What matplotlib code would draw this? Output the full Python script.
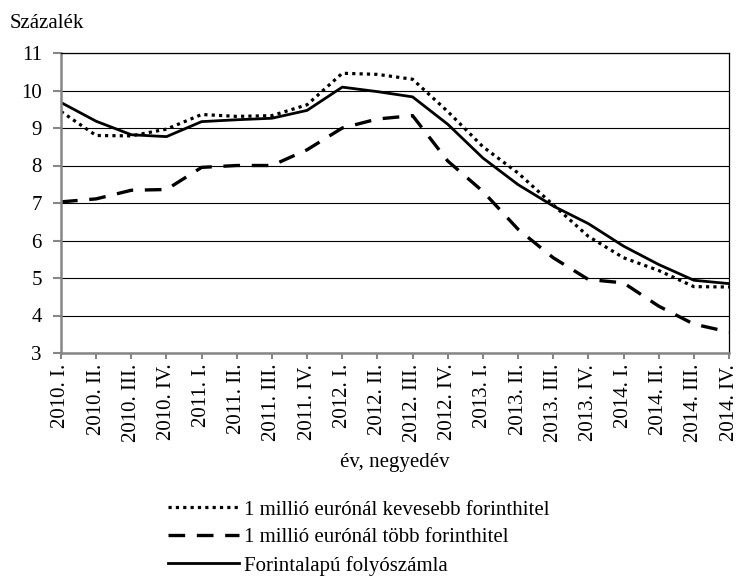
import matplotlib
matplotlib.use("Agg")
import matplotlib.pyplot as plt

plt.rcParams['font.family'] = ['Liberation Serif', 'DejaVu Serif']

categories = ["2010. I.", "2010. II.", "2010. III.", "2010. IV.",
              "2011. I.", "2011. II.", "2011. III.", "2011. IV.",
              "2012. I.", "2012. II.", "2012. III.", "2012. IV.",
              "2013. I.", "2013. II.", "2013. III.", "2013. IV.",
              "2014. I.", "2014. II.", "2014. III.", "2014. IV."]

kevesebb = [9.44, 8.80, 8.79, 8.97, 9.36, 9.31, 9.33, 9.62, 10.46, 10.43,
            10.30, 9.44, 8.50, 7.80, 6.95, 6.11, 5.54, 5.20, 4.77, 4.76]
tobb = [7.03, 7.11, 7.34, 7.36, 7.95, 8.00, 8.00, 8.42, 9.00, 9.24,
        9.33, 8.12, 7.31, 6.30, 5.54, 4.96, 4.87, 4.25, 3.77, 3.56]
folyoszamla = [9.68, 9.18, 8.82, 8.77, 9.17, 9.22, 9.26, 9.47, 10.09, 9.97,
               9.83, 9.10, 8.20, 7.49, 6.92, 6.45, 5.85, 5.36, 4.94, 4.85]

labels = ["1 millió eurónál kevesebb forinthitel",
          "1 millió eurónál több forinthitel",
          "Forintalapú folyószámla"]

FS = 15
W, H = 736, 582
fig = plt.figure(figsize=(W / 100, H / 100), dpi=100)
left, right, top, bottom = 61, 729, 53, 353
ax = fig.add_axes([left / W, 1 - bottom / H, (right - left) / W, (bottom - top) / H])

x = list(range(len(categories)))
l1, = ax.plot(x, kevesebb, color='black', lw=2.3, linestyle=(0, (1, 1.3)))
l2, = ax.plot(x, tobb, color='black', lw=2.4, linestyle=(0, (5, 3.5)))
l3, = ax.plot(x, folyoszamla, color='black', lw=2.0, linestyle='-')

ax.set_xlim(0, len(categories) - 1)
ax.set_ylim(3, 11)
ax.set_yticks(range(3, 12))
ax.set_xticks(x)
ax.set_xticklabels(categories, rotation=90, fontsize=FS)
ax.tick_params(axis='y', labelsize=FS, length=5.8, width=1.5, color='#868686', pad=8)
ax.tick_params(axis='x', length=4.3, width=1.5, color='#868686', pad=3.5)
ax.yaxis.grid(True, color='black', lw=0.8)
ax.set_axisbelow(True)

for s in ['left', 'bottom']:
    ax.spines[s].set_color('#868686')
    ax.spines[s].set_linewidth(1.8)
for s in ['top', 'right']:
    ax.spines[s].set_color('black')
    ax.spines[s].set_linewidth(0.9)

fig.text(10 / W, 1 - 23 / H, "Százalék", fontsize=FS, va='center', ha='left')
fig.text(395 / W, 1 - 463 / H, "év, negyedév", fontsize=FS, va='center', ha='center')

fig.legend([l1, l2, l3], labels, loc='upper left',
           bbox_to_anchor=(168 / W, 1 - 500 / H), frameon=False,
           fontsize=FS, handlelength=3.4, handletextpad=0.25,
           labelspacing=0.4, borderpad=0, borderaxespad=0)

fig.savefig("out.png", dpi=100)
